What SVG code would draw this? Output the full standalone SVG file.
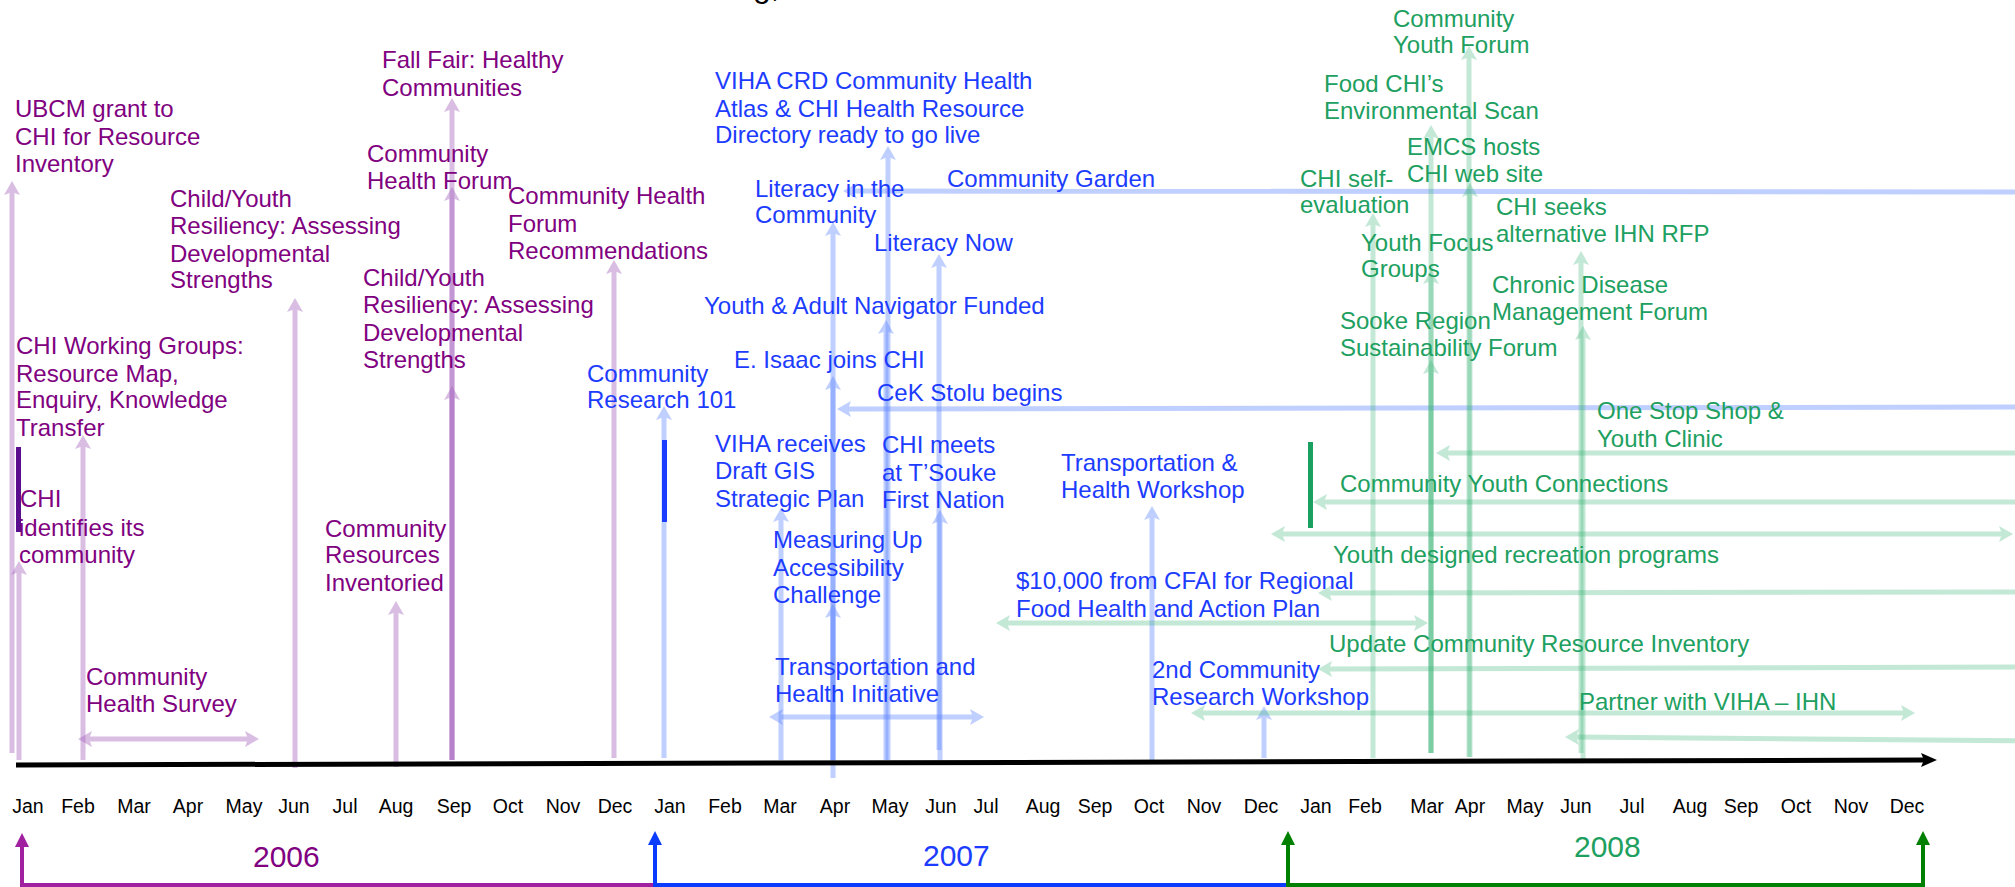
<svg xmlns="http://www.w3.org/2000/svg" width="2015" height="887" viewBox="0 0 2015 887">
<defs>
<marker id="aP" viewBox="0 0 14 16" refX="4" refY="8" markerWidth="14" markerHeight="16" markerUnits="userSpaceOnUse" orient="auto-start-reverse"><path d="M0,0 L14,8 L0,16 L3,8 Z" fill="#a564be"/></marker>
<marker id="aB" viewBox="0 0 14 16" refX="4" refY="8" markerWidth="14" markerHeight="16" markerUnits="userSpaceOnUse" orient="auto-start-reverse"><path d="M0,0 L14,8 L0,16 L3,8 Z" fill="#5a82ff"/></marker>
<marker id="aG" viewBox="0 0 14 16" refX="4" refY="8" markerWidth="14" markerHeight="16" markerUnits="userSpaceOnUse" orient="auto-start-reverse"><path d="M0,0 L14,8 L0,16 L3,8 Z" fill="#3cb478"/></marker>
<marker id="aK" viewBox="0 0 16 14" refX="4" refY="7" markerWidth="16" markerHeight="14" markerUnits="userSpaceOnUse" orient="auto"><path d="M0,0 L16,7 L0,14 L3,7 Z" fill="#000"/></marker>
<marker id="yP" viewBox="0 0 14 14" refX="2" refY="7" markerWidth="14" markerHeight="14" markerUnits="userSpaceOnUse" orient="auto"><path d="M0,0 L14,7 L0,14 Z" fill="#a020a0"/></marker>
<marker id="yB" viewBox="0 0 14 14" refX="2" refY="7" markerWidth="14" markerHeight="14" markerUnits="userSpaceOnUse" orient="auto"><path d="M0,0 L14,7 L0,14 Z" fill="#0a3cff"/></marker>
<marker id="yG" viewBox="0 0 14 14" refX="2" refY="7" markerWidth="14" markerHeight="14" markerUnits="userSpaceOnUse" orient="auto"><path d="M0,0 L14,7 L0,14 Z" fill="#008000"/></marker>
</defs>
<style>
text{font-family:"Liberation Sans",Arial,sans-serif;font-size:24px}
.p{fill:#800080}.b{fill:#1c3cff}.g{fill:#20a060}
.m{font-size:19.5px;fill:#000;text-anchor:middle}
.yr{font-size:30px}
.title{font-size:32px;fill:#000}
.lp{stroke:#a564be;stroke-width:5;opacity:.42;marker-end:url(#aP);fill:none}
.lb{stroke:#5a82ff;stroke-width:5;opacity:.38;marker-end:url(#aB);fill:none}
.lg{stroke:#3cb478;stroke-width:5;opacity:.3;marker-end:url(#aG);fill:none}
.lp.d{marker-start:url(#aP)}.lb.d{marker-start:url(#aB)}.lg.d{marker-start:url(#aG)}
.lb.s,.lg.s{marker-start:url(#aB);marker-end:none}
.lg.s{marker-start:url(#aG)}
.axis{stroke:#000;stroke-width:5;marker-end:url(#aK)}
.yp{stroke:#a020a0;stroke-width:4;fill:none}
.yb{stroke:#0a3cff;stroke-width:4;fill:none}
.yg{stroke:#008000;stroke-width:4;fill:none}
</style>
<rect width="2015" height="887" fill="#fff"/>

<g id="title"><text class="title" x="753" y="-3">g,</text></g>

<g id="connectors">
<!-- 2006 purple -->
<line class="lp" x1="12" y1="753" x2="12" y2="191"/>
<line class="lp" x1="19" y1="760" x2="19" y2="571"/>
<line class="lp" x1="83" y1="760" x2="83" y2="445"/>
<line class="lp" x1="295" y1="768" x2="295" y2="308"/>
<line class="lp" x1="396" y1="767" x2="396" y2="611"/>
<line class="lp" x1="452" y1="760" x2="452" y2="108"/>
<line class="lp" x1="452" y1="760" x2="452" y2="197"/>
<line class="lp" x1="452" y1="760" x2="452" y2="396"/>
<line class="lp" x1="614" y1="758" x2="614" y2="270"/>
<line class="lp d" x1="88" y1="739" x2="249" y2="739"/>
<!-- 2007 blue -->
<line class="lb" x1="664" y1="758" x2="664" y2="416"/>
<line class="lb" x1="781" y1="760" x2="781" y2="518"/>
<line class="lb" x1="833" y1="778" x2="833" y2="232"/>
<line class="lb" x1="833" y1="760" x2="833" y2="386"/>
<line class="lb" x1="833" y1="760" x2="833" y2="614"/>
<line class="lb" x1="888" y1="760" x2="888" y2="156"/>
<line class="lb" x1="886" y1="760" x2="886" y2="330"/>
<line class="lb" x1="939" y1="750" x2="939" y2="264"/>
<line class="lb" x1="940" y1="760" x2="940" y2="520"/>
<line class="lb" x1="1152" y1="762" x2="1152" y2="516"/>
<line class="lb" x1="1264" y1="758" x2="1264" y2="716"/>
<line class="lb s" x1="853" y1="191" x2="2030" y2="192"/>
<line class="lb s" x1="847" y1="409" x2="2030" y2="407"/>
<line class="lb d" x1="779" y1="717" x2="974" y2="717"/>
<!-- 2008 green -->
<line class="lg" x1="1373" y1="758" x2="1373" y2="223"/>
<line class="lg" x1="1431" y1="753" x2="1431" y2="135"/>
<line class="lg" x1="1431" y1="753" x2="1431" y2="280"/>
<line class="lg" x1="1431" y1="753" x2="1431" y2="370"/>
<line class="lg" x1="1469" y1="757" x2="1469" y2="56"/>
<line class="lg" x1="1470" y1="757" x2="1470" y2="193"/>
<line class="lg" x1="1581" y1="753" x2="1581" y2="261"/>
<line class="lg" x1="1583" y1="760" x2="1583" y2="336"/>
<line class="lg s" x1="1446" y1="453" x2="2030" y2="453"/>
<line class="lg s" x1="1323" y1="502" x2="2030" y2="502"/>
<line class="lg d" x1="1281" y1="534" x2="2003" y2="534"/>
<line class="lg s" x1="1328" y1="593" x2="2030" y2="592"/>
<line class="lg d" x1="1006" y1="623" x2="1418" y2="623"/>
<line class="lg s" x1="1328" y1="669" x2="2030" y2="667"/>
<line class="lg d" x1="1201" y1="713" x2="1905" y2="713"/>
<line class="lg s" x1="1575" y1="737" x2="2030" y2="741"/>
<!-- axis -->
<line class="axis" x1="16" y1="765" x2="1925" y2="760"/>
<!-- year brackets -->
<path class="yp" d="M22,885 H655"/>
<path class="yb" d="M655,885 H1288"/>
<path class="yg" d="M1288,885 H1923"/>
<line class="yp" x1="22" y1="887" x2="22" y2="845" marker-end="url(#yP)"/>
<line class="yb" x1="655" y1="887" x2="655" y2="843" marker-end="url(#yB)"/>
<line class="yg" x1="1288" y1="887" x2="1288" y2="843" marker-end="url(#yG)"/>
<line class="yg" x1="1923" y1="887" x2="1923" y2="843" marker-end="url(#yG)"/>
</g>

<g id="months">
<text class="m" x="28" y="813">Jan</text><text class="m" x="78" y="813">Feb</text><text class="m" x="134" y="813">Mar</text><text class="m" x="188" y="813">Apr</text><text class="m" x="244" y="813">May</text><text class="m" x="294" y="813">Jun</text><text class="m" x="345" y="813">Jul</text><text class="m" x="396" y="813">Aug</text><text class="m" x="454" y="813">Sep</text><text class="m" x="508" y="813">Oct</text><text class="m" x="563" y="813">Nov</text><text class="m" x="615" y="813">Dec</text>
<text class="m" x="670" y="813">Jan</text><text class="m" x="725" y="813">Feb</text><text class="m" x="780" y="813">Mar</text><text class="m" x="835" y="813">Apr</text><text class="m" x="890" y="813">May</text><text class="m" x="941" y="813">Jun</text><text class="m" x="986" y="813">Jul</text><text class="m" x="1043" y="813">Aug</text><text class="m" x="1095" y="813">Sep</text><text class="m" x="1149" y="813">Oct</text><text class="m" x="1204" y="813">Nov</text><text class="m" x="1261" y="813">Dec</text>
<text class="m" x="1316" y="813">Jan</text><text class="m" x="1365" y="813">Feb</text><text class="m" x="1427" y="813">Mar</text><text class="m" x="1470" y="813">Apr</text><text class="m" x="1525" y="813">May</text><text class="m" x="1576" y="813">Jun</text><text class="m" x="1632" y="813">Jul</text><text class="m" x="1690" y="813">Aug</text><text class="m" x="1741" y="813">Sep</text><text class="m" x="1796" y="813">Oct</text><text class="m" x="1851" y="813">Nov</text><text class="m" x="1907" y="813">Dec</text>
</g>

<g id="year-2006"><text class="p yr" x="253" y="867">2006</text></g>
<g id="year-2007"><text class="b yr" x="923" y="866">2007</text></g>
<g id="year-2008"><text class="g yr" x="1574" y="857">2008</text></g>

<!-- 2006 events -->
<g id="e-ubcm"><text class="p"><tspan x="15" y="117">UBCM grant to</tspan><tspan x="15" y="145">CHI for Resource</tspan><tspan x="15" y="172">Inventory</tspan></text></g>
<g id="e-fallfair"><text class="p"><tspan x="382" y="68">Fall Fair: Healthy</tspan><tspan x="382" y="96">Communities</tspan></text></g>
<g id="e-chf"><text class="p"><tspan x="367" y="162">Community</tspan><tspan x="367" y="189">Health Forum</tspan></text></g>
<g id="e-cyr1"><text class="p"><tspan x="170" y="207">Child/Youth</tspan><tspan x="170" y="234">Resiliency: Assessing</tspan><tspan x="170" y="262">Developmental</tspan><tspan x="170" y="288">Strengths</tspan></text></g>
<g id="e-chfr"><text class="p"><tspan x="508" y="204">Community Health</tspan><tspan x="508" y="232">Forum</tspan><tspan x="508" y="259">Recommendations</tspan></text></g>
<g id="e-cyr2"><text class="p"><tspan x="363" y="286">Child/Youth</tspan><tspan x="363" y="313">Resiliency: Assessing</tspan><tspan x="363" y="341">Developmental</tspan><tspan x="363" y="368">Strengths</tspan></text></g>
<g id="e-cwg"><text class="p"><tspan x="16" y="354">CHI Working Groups:</tspan><tspan x="16" y="382">Resource Map,</tspan><tspan x="16" y="408">Enquiry, Knowledge</tspan><tspan x="16" y="436">Transfer</tspan></text></g>
<g id="e-chiid"><rect x="16" y="447" width="5" height="85" fill="#5b0f8f"/><text class="p"><tspan x="20" y="507">CHI</tspan><tspan x="19" y="536">identifies its</tspan><tspan x="19" y="563">community</tspan></text></g>
<g id="e-cri"><text class="p"><tspan x="325" y="537">Community</tspan><tspan x="325" y="563">Resources</tspan><tspan x="325" y="591">Inventoried</tspan></text></g>
<g id="e-chs"><text class="p"><tspan x="86" y="685">Community</tspan><tspan x="86" y="712">Health Survey</tspan></text></g>

<!-- 2007 events -->
<g id="e-cr101"><rect x="662" y="440" width="5" height="82" fill="#1c3cff"/><text class="b"><tspan x="587" y="382">Community</tspan><tspan x="587" y="408">Research 101</tspan></text></g>
<g id="e-atlas"><text class="b"><tspan x="715" y="89">VIHA CRD Community Health</tspan><tspan x="715" y="117">Atlas &amp; CHI Health Resource</tspan><tspan x="715" y="143">Directory ready to go live</tspan></text></g>
<g id="e-litcom"><text class="b"><tspan x="755" y="197">Literacy in the</tspan><tspan x="755" y="223">Community</tspan></text></g>
<g id="e-garden"><text class="b" x="947" y="187">Community Garden</text></g>
<g id="e-litnow"><text class="b" x="874" y="251">Literacy Now</text></g>
<g id="e-nav"><text class="b" x="704" y="314">Youth &amp; Adult Navigator Funded</text></g>
<g id="e-isaac"><text class="b" x="734" y="368">E. Isaac joins CHI</text></g>
<g id="e-cek"><text class="b" x="877" y="401">CeK Stolu begins</text></g>
<g id="e-gis"><text class="b"><tspan x="715" y="452">VIHA receives</tspan><tspan x="715" y="479">Draft GIS</tspan><tspan x="715" y="507">Strategic Plan</tspan></text></g>
<g id="e-tsouke"><text class="b"><tspan x="882" y="453">CHI meets</tspan><tspan x="882" y="481">at T’Souke</tspan><tspan x="882" y="508">First Nation</tspan></text></g>
<g id="e-thw"><text class="b"><tspan x="1061" y="471">Transportation &amp;</tspan><tspan x="1061" y="498">Health Workshop</tspan></text></g>
<g id="e-mu"><text class="b"><tspan x="773" y="548">Measuring Up</tspan><tspan x="773" y="576">Accessibility</tspan><tspan x="773" y="603">Challenge</tspan></text></g>
<g id="e-cfai"><text class="b"><tspan x="1016" y="589">$10,000 from CFAI for Regional</tspan><tspan x="1016" y="617">Food Health and Action Plan</tspan></text></g>
<g id="e-thi"><text class="b"><tspan x="775" y="675">Transportation and</tspan><tspan x="775" y="702">Health Initiative</tspan></text></g>
<g id="e-crw2"><text class="b"><tspan x="1152" y="678">2nd Community</tspan><tspan x="1152" y="705">Research Workshop</tspan></text></g>

<!-- 2008 events -->
<g id="e-cyf"><text class="g"><tspan x="1393" y="27">Community</tspan><tspan x="1393" y="53">Youth Forum</tspan></text></g>
<g id="e-food"><text class="g"><tspan x="1324" y="92">Food CHI’s</tspan><tspan x="1324" y="119">Environmental Scan</tspan></text></g>
<g id="e-emcs"><text class="g"><tspan x="1407" y="155">EMCS hosts</tspan><tspan x="1407" y="182">CHI web site</tspan></text></g>
<g id="e-self"><text class="g"><tspan x="1300" y="187">CHI self-</tspan><tspan x="1300" y="213">evaluation</tspan></text></g>
<g id="e-rfp"><text class="g"><tspan x="1496" y="215">CHI seeks</tspan><tspan x="1496" y="242">alternative IHN RFP</tspan></text></g>
<g id="e-yfg"><text class="g"><tspan x="1361" y="251">Youth Focus</tspan><tspan x="1361" y="277">Groups</tspan></text></g>
<g id="e-cdm"><text class="g"><tspan x="1492" y="293">Chronic Disease</tspan><tspan x="1492" y="320">Management Forum</tspan></text></g>
<g id="e-sooke"><text class="g"><tspan x="1340" y="329">Sooke Region</tspan><tspan x="1340" y="356">Sustainability Forum</tspan></text></g>
<g id="e-oss"><text class="g"><tspan x="1597" y="419">One Stop Shop &amp;</tspan><tspan x="1597" y="447">Youth Clinic</tspan></text></g>
<g id="e-cyc"><rect x="1308" y="442" width="5" height="86" fill="#1aa060"/><text class="g" x="1340" y="492">Community Youth Connections</text></g>
<g id="e-ydr"><text class="g" x="1333" y="563">Youth designed recreation programs</text></g>
<g id="e-ucri"><text class="g" x="1329" y="652">Update Community Resource Inventory</text></g>
<g id="e-viha"><text class="g" x="1579" y="710">Partner with VIHA – IHN</text></g>
</svg>
